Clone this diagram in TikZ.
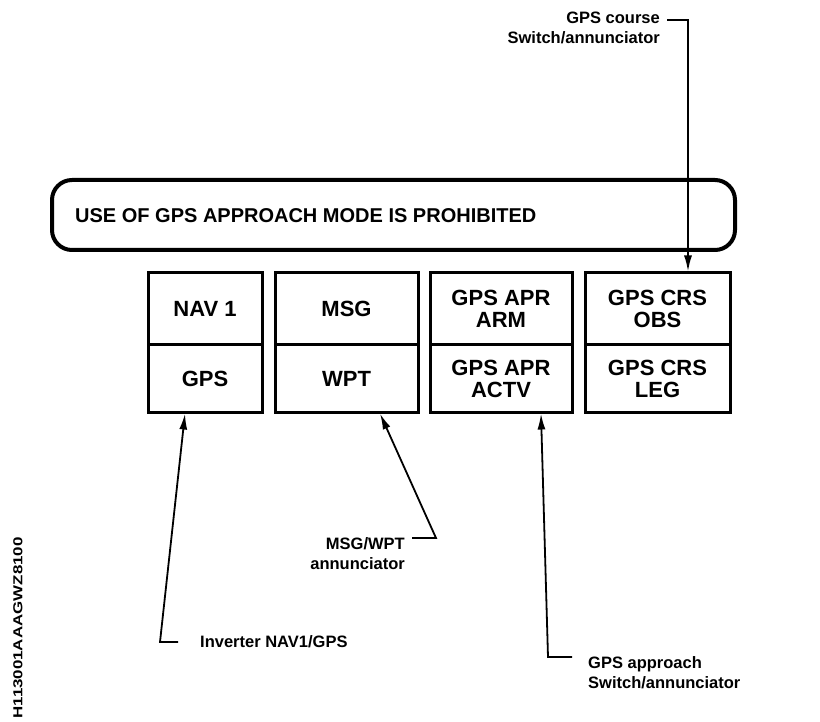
\documentclass[tikz,border=0pt]{standalone}
\usepackage{fontspec}
\setmainfont{Liberation Sans}
\usetikzlibrary{arrows.meta}
\begin{document}
\begin{tikzpicture}[x=1pt,y=-1pt,
  cellbox/.style={draw, line width=3pt, inner sep=0pt, align=center,
    font=\fontsize{22}{22}\selectfont\bfseries},
  banner/.style={draw, line width=4pt, rounded corners=20pt, inner sep=0pt},
  lbl/.style={inner sep=0pt, align=left, font=\fontsize{16.5}{20}\selectfont\bfseries},
  conn/.style={line width=1.8pt, -{Latex[length=16pt,width=8pt]}}
]
\path[use as bounding box] (0,0) rectangle (820,722);
% banner
\node[banner, minimum width=683pt, minimum height=70pt] (ban) at (393.5,215) {};
\node[anchor=west, inner sep=0pt, font=\fontsize{20}{22}\selectfont\bfseries] (bantxt) at (75,216) {USE OF GPS APPROACH MODE IS PROHIBITED};
% boxes
\node[cellbox, minimum width=114pt, minimum height=72pt] (b1t) at (205,309) {NAV 1};
\node[cellbox, minimum width=114pt, minimum height=67pt] (b1b) at (205,378.5) {GPS};
\node[cellbox, minimum width=143pt, minimum height=72pt] (b2t) at (346.5,309) {MSG};
\node[cellbox, minimum width=143pt, minimum height=67pt] (b2b) at (346.5,378.5) {WPT};
\node[cellbox, minimum width=142pt, minimum height=72pt] (b3t) at (501,309) {GPS APR\\ARM};
\node[cellbox, minimum width=142pt, minimum height=67pt] (b3b) at (501,378.5) {GPS APR\\ACTV};
\node[cellbox, minimum width=145pt, minimum height=72pt] (b4t) at (657.5,309) {GPS CRS\\OBS};
\node[cellbox, minimum width=145pt, minimum height=67pt] (b4b) at (657.5,378.5) {GPS CRS\\LEG};
% labels
\node[lbl, align=right, anchor=east] (l4) at (660,28) {GPS course\\Switch/annunciator};
\node[lbl, anchor=west] (l1) at (200,642) {Inverter NAV1/GPS};
\node[lbl, align=right, anchor=east] (l2) at (405,554) {MSG/WPT\\annunciator};
\node[lbl, anchor=west] (l3) at (588,673) {GPS approach\\Switch/annunciator};
% connectors
\coordinate (h4) at (667,20);
\coordinate (c4) at (688,20);
\draw[conn] (h4) -- (c4) -- ([xshift=30.5pt]b4t.north);
\coordinate (h1) at (178,642);
\coordinate (c1) at (160,642);
\draw[conn] (h1) -- (c1) -- ([xshift=-20pt]b1b.south);
\coordinate (h2) at (412,538);
\coordinate (c2) at (436,538);
\draw[conn] (h2) -- (c2) -- ([xshift=33.5pt]b2b.south);
\coordinate (h3) at (572,657);
\coordinate (c3) at (548,657);
\draw[conn] (h3) -- (c3) -- ([xshift=40pt]b3b.south);
% id
\node[rotate=90, inner sep=0pt, font=\fontsize{13}{13}\selectfont\bfseries] (idt) at (18,628) {\scalebox{1.3}[1]{H113001AAAGWZ8100}};
\end{tikzpicture}
\end{document}
